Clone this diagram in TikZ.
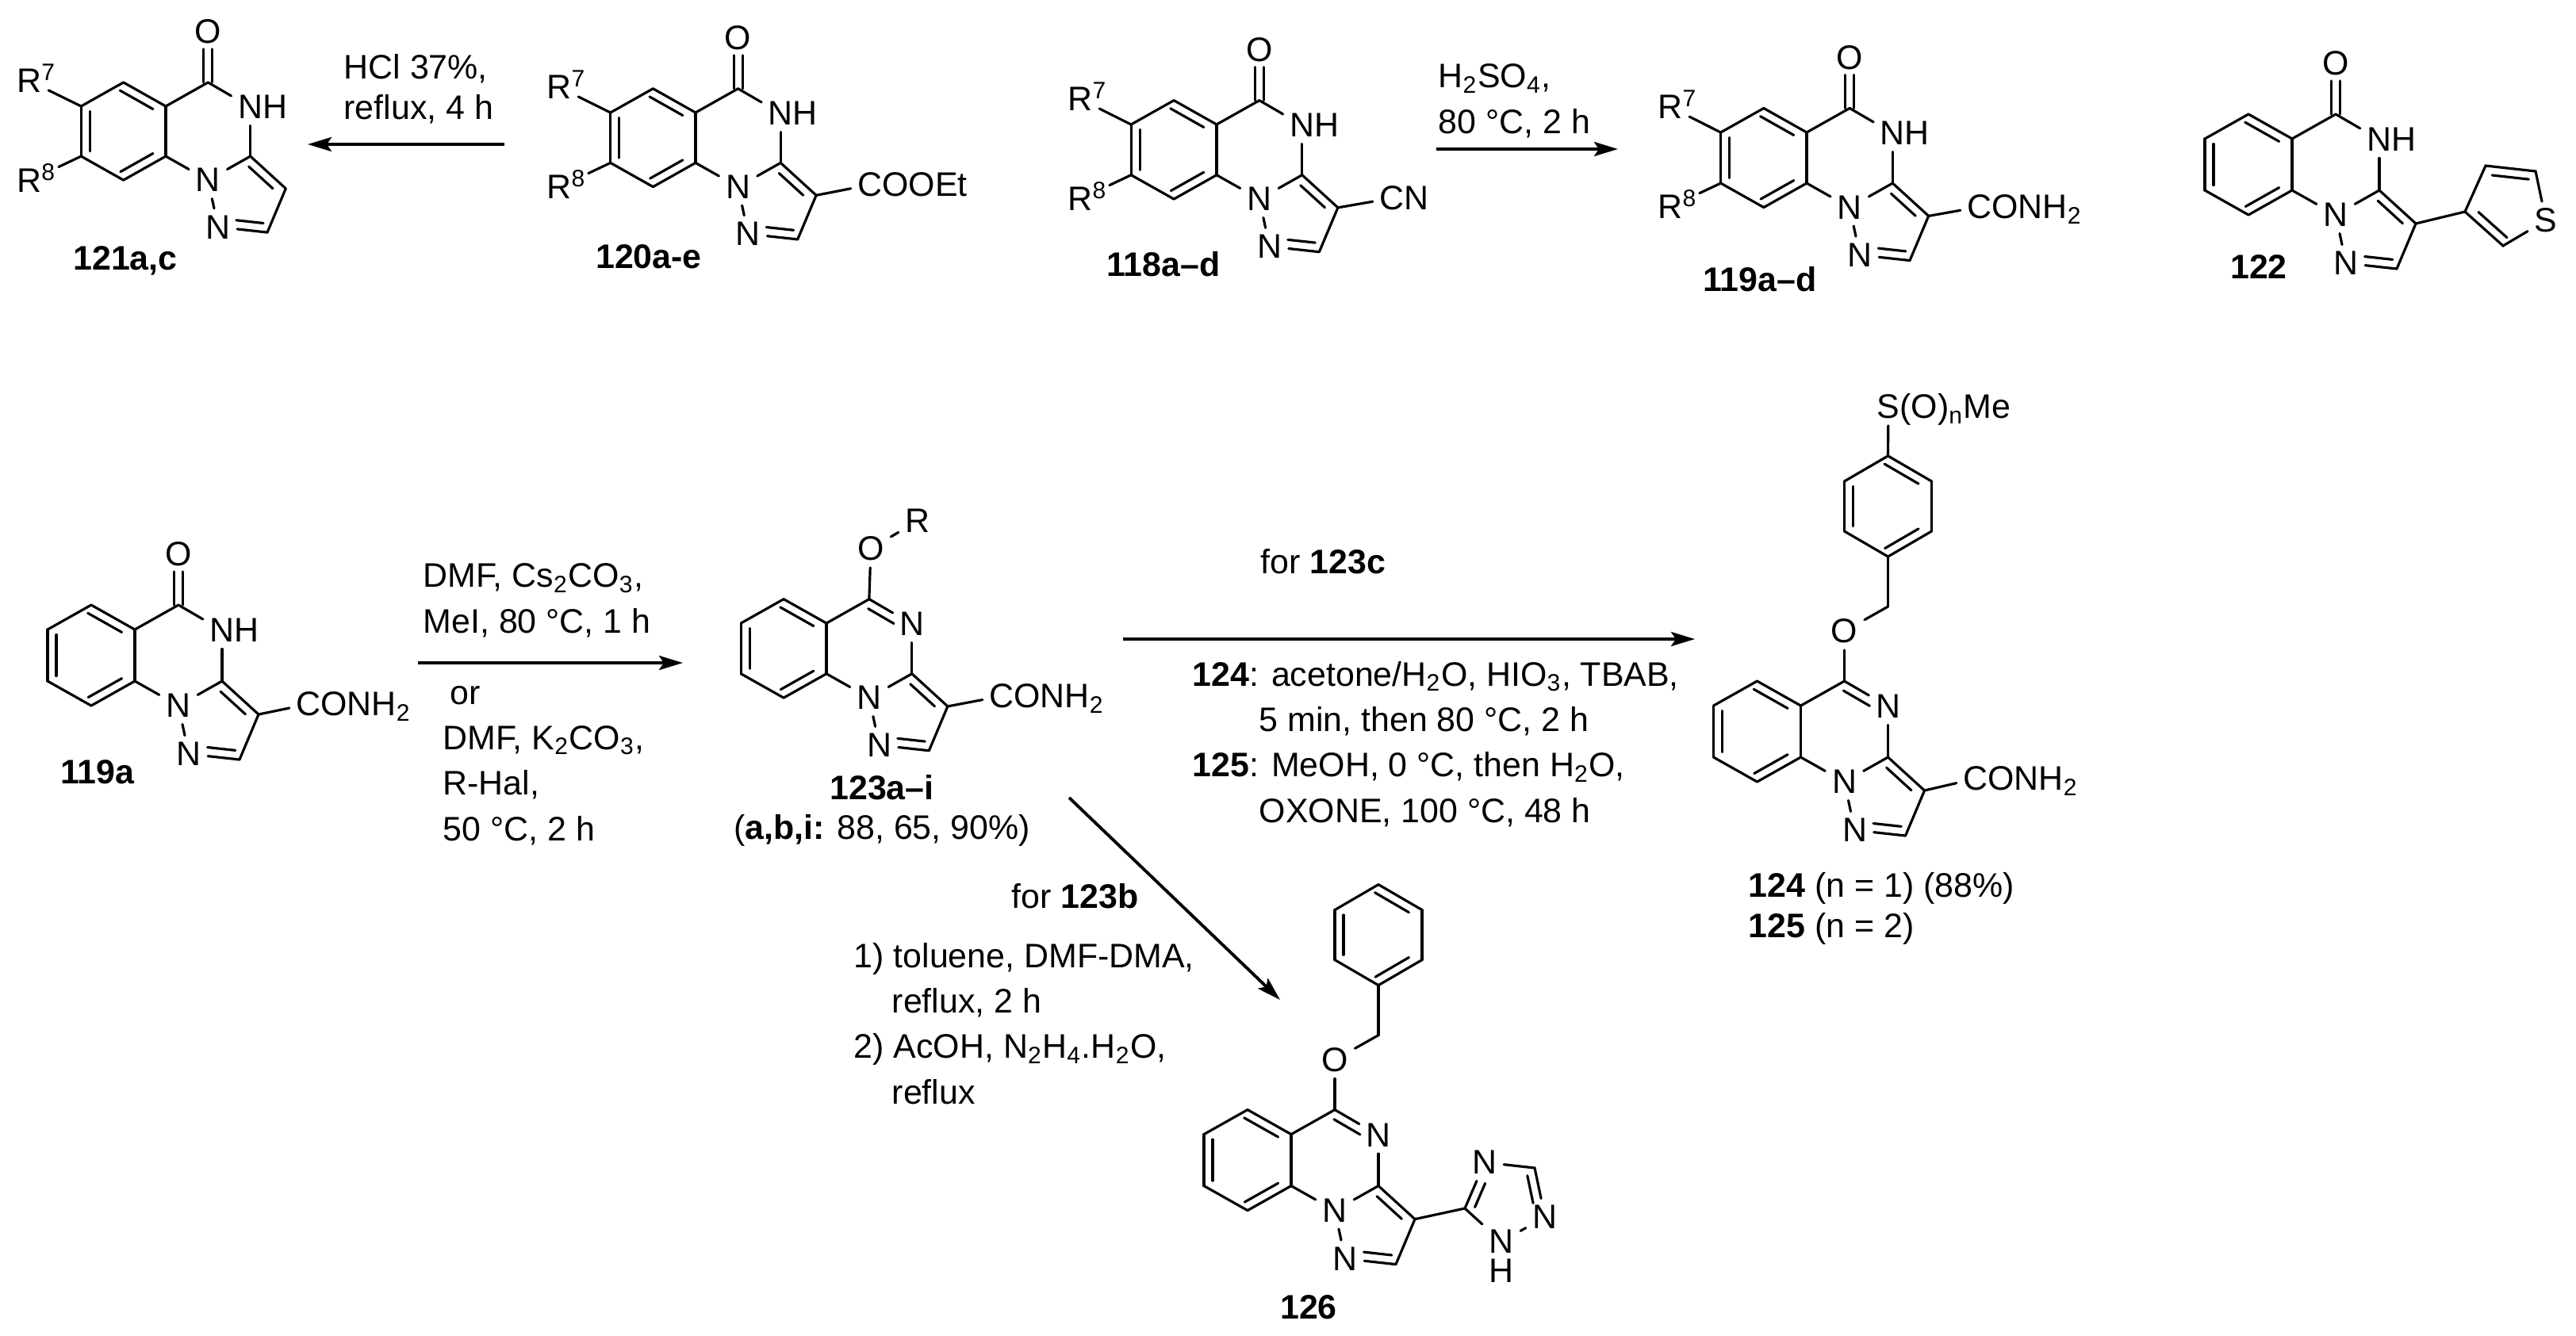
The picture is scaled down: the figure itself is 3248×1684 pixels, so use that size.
\documentclass[tikz,border=0pt]{standalone}
\usepackage{fontspec}
\setmainfont{Liberation Sans}
\usetikzlibrary{arrows.meta,calc}
\tikzset{
  bond/.style={line width=.9pt,line cap=round},
  atom/.style={inner sep=.08cm},
  rxn/.style={line width=1.1pt,-{Stealth[length=.3cm,width=.18cm,inset=.06cm]}},
  txt/.style={inner sep=0pt,align=left,anchor=base west},
  txtshort/.style={txt,font=\fontsize{12.2}{14.4}\selectfont},
  lab/.style={inner sep=0pt,anchor=base,font=\fontsize{12.2}{16.3}\selectfont\bfseries}
}
\newcommand{\tail}[1]{\smash{\rlap{#1}}}
\newcommand{\dbond}[4]{\draw[bond] ($(#1)!#3!(#2)!.11cm!-90:(#2)$) -- ($(#1)!#4!(#2)!.11cm!-90:(#2)$);}
\newcommand{\core}[5]{
  \begin{scope}[shift={(#2,#3)},scale=#4]
    \coordinate (#1rt) at (0,0);
    \coordinate (#1top) at (-55,-31);
    \coordinate (#1lt) at (-110,0);
    \coordinate (#1lb) at (-110,65);
    \coordinate (#1bot) at (-55,96);
    \coordinate (#1rb) at (0,65);
    \coordinate (#1c4) at (55,-31);
    \coordinate (#1c3a) at (110,65);
    \coordinate (#1c2) at (132,164);
    \coordinate (#1c3) at (156,107);
    \node[atom] (#1n5) at (110,1) {#5};
    \node[atom] (#1n1) at (55,96) {N};
    \node[atom] (#1n2) at (68,157) {N};
  \end{scope}
  \foreach \a/\b in {rt/top,top/lt,lt/lb,lb/bot,bot/rb,rb/rt,rt/c4,c4/n5,n5/c3a,c3a/n1,n1/rb,n1/n2,n2/c2,c2/c3,c3/c3a}{
    \draw[bond] (#1\a) -- (#1\b);
  }
  \dbond{#1top}{#1rt}{.02}{.8}
  \dbond{#1lb}{#1lt}{.1}{.9}
  \dbond{#1rb}{#1bot}{.2}{.97}
  \dbond{#1c3a}{#1c3}{.12}{.8}
  \dbond{#1c2}{#1n2}{.1}{.65}
}
\newcommand{\oxo}[1]{
  \node[atom] (#1o) at ($(#1c4)+(0,-64)$) {O};
  \draw[bond,shorten >=.22cm] ($(#1c4)!.055cm!90:(#1o)$) -- ($(#1o)!.055cm!-90:(#1c4)$);
  \draw[bond,shorten >=.22cm] ($(#1c4)!.055cm!-90:(#1o)$) -- ($(#1o)!.055cm!90:(#1c4)$);
}
\newcommand{\rpair}[3]{
  \node[atom] (#1r7) at ($(#2,#3)+(-172,-32)$) {R\tail{\textsuperscript{7}}};
  \node[atom] (#1r8) at ($(#2,#3)+(-172,94)$) {R\tail{\textsuperscript{8}}};
  \draw[bond] (#1lt) -- (#1r7);
  \draw[bond,shorten >=.14cm] (#1lb) -- (#1r8);
}
\newcommand{\benzyloxy}[3]{
  \begin{scope}[shift={(#2,#3)}]
    \node[atom] (#1o) at (55,-94) {O};
    \coordinate (#1ch) at (110,-125);
    \coordinate (#1pb) at (110,-188);
    \coordinate (#1prb) at (165,-220);
    \coordinate (#1prt) at (165,-283);
    \coordinate (#1pt) at (110,-315);
    \coordinate (#1plt) at (55,-283);
    \coordinate (#1plb) at (55,-220);
  \end{scope}
  \foreach \a/\b in {c4/o,o/ch,ch/pb,pb/prb,prb/prt,prt/pt,pt/plt,plt/plb,plb/pb}{
    \draw[bond] (#1\a) -- (#1\b);
  }
  \dbond{#1pt}{#1prt}{.02}{.8}
  \dbond{#1prb}{#1pb}{.2}{.97}
  \dbond{#1plb}{#1plt}{.1}{.9}
}
\begin{document}
\begin{tikzpicture}[x=.01cm,y=-.01cm,every node/.style={font=\fontsize{12.2}{16.3}\selectfont}]
  \path[use as bounding box] (0,0) rectangle (3248,1684);

  \core{mA}{209}{134}{.97}{N\tail{H}}
  \oxo{mA}
  \rpair{mA}{209}{134}
  \node[lab] (tA) at (158,340) {121a,c};

  \core{mB}{877}{142}{.975}{N\tail{H}}
  \oxo{mB}
  \rpair{mB}{877}{142}
  \node[atom] (mBsub) at (1097,233) {C\tail{OOEt}};
  \draw[bond] (mBc3) -- (mBsub);
  \node[lab] (tB) at (818,338) {120a-e};

  \core{mC}{1534}{157}{.98}{N\tail{H}}
  \oxo{mC}
  \rpair{mC}{1534}{157}
  \node[atom] (mCsub) at (1755,250) {C\tail{N}};
  \draw[bond] (mCc3) -- (mCsub);
  \node[lab] (tC) at (1467,348) {118a–d};

  \core{mD}{2278}{167}{.985}{N\tail{H}}
  \oxo{mD}
  \rpair{mD}{2278}{167}
  \node[atom] (mDsub) at (2496,261) {C\tail{ONH\textsubscript{2}}};
  \draw[bond] (mDc3) -- (mDsub);
  \node[lab] (tD) at (2219,367) {119a–d};

  \core{mE}{2890}{175}{1}{N\tail{H}}
  \oxo{mE}
  \coordinate (thA) at (3108,267);
  \coordinate (thB) at (3156,310);
  \node[atom] (thS) at (3210,278) {S};
  \coordinate (thC) at (3197,216);
  \coordinate (thD) at (3134,209);
  \draw[bond] (mEc3) -- (thA) -- (thB) -- (thS) -- (thC) -- (thD) -- (thA);
  \dbond{thB}{thA}{.05}{.8}
  \dbond{thD}{thC}{.15}{.88}
  \node[lab] (tE) at (2848,351) {122};

  \core{mF}{170}{794}{1}{N\tail{H}}
  \oxo{mF}
  \node[atom] (mFsub) at (389,888) {C\tail{ONH\textsubscript{2}}};
  \draw[bond] (mFc3) -- (mFsub);
  \node[lab] (tF) at (123,988) {119a};

  \core{mG}{1042}{786}{.98}{N}
  \dbond{mGc4}{mGn5}{.08}{.68}
  \node[atom] (mGo) at (1098,692) {O};
  \node[atom] (mGr) at (1157,657) {R};
  \draw[bond] (mGc4) -- (mGo);
  \draw[bond] (mGo) -- (mGr);
  \node[atom] (mGsub) at (1263,878) {C\tail{ONH\textsubscript{2}}};
  \draw[bond] (mGc3) -- (mGsub);
  \node[lab] (tG) at (1112,1008) {123a–i};
  \node[lab,font=\fontsize{12.2}{16.3}\selectfont] (tGy) at (1112,1058) {(\textbf{a,b,i:} 88, 65, 90\%)};

  \core{mH}{2270.5}{890}{1}{N}
  \dbond{mHc4}{mHn5}{.08}{.68}
  \benzyloxy{mH}{2270.5}{890}
  \node[atom] (mHs) at (2381,513) {S\tail{(O)\textsubscript{n}Me}};
  \draw[bond] (mHpt) -- (mHs);
  \node[atom] (mHsub) at (2491,982) {C\tail{ONH\textsubscript{2}}};
  \draw[bond] (mHc3) -- (mHsub);
  \node[txtshort] (tH) at (2204,1182) {\textbf{124} (n = 1) (88\%)\\\textbf{125} (n = 2)};

  \core{mJ}{1628}{1430.6}{1}{N}
  \dbond{mJc4}{mJn5}{.08}{.68}
  \benzyloxy{mJ}{1628}{1430.6}
  \coordinate (trA) at (1847,1524);
  \node[atom] (trB) at (1872,1466) {N};
  \coordinate (trC) at (1935,1473);
  \node[atom] (trD) at (1948,1535) {N};
  \node[atom] (trE) at (1893,1566) {N};
  \node[inner sep=0pt] (trH) at (1893,1603) {H};
  \draw[bond] (mJc3) -- (trA) -- (trB) -- (trC) -- (trD) -- (trE) -- (trA);
  \dbond{trA}{trB}{.1}{.62}
  \dbond{trC}{trD}{.12}{.68}
  \node[lab] (tJ) at (1650,1663) {126};

  \coordinate (arAs) at (636,182);
  \coordinate (arAe) at (388,182);
  \draw[rxn] (arAs) -- (arAe);
  \node[txtshort] (rgA) at (433,150) {HCl 37\%,\\reflux, 4 h};

  \coordinate (arBs) at (1811,188);
  \coordinate (arBe) at (2040,188);
  \draw[rxn] (arBs) -- (arBe);
  \node[txt] (rgB) at (1813,168) {H\textsubscript{2}SO\textsubscript{4},\\80 °C, 2 h};

  \coordinate (arCs) at (527,836);
  \coordinate (arCe) at (861,836);
  \draw[rxn] (arCs) -- (arCe);
  \node[txt] (rgC) at (533,798) {DMF, Cs\textsubscript{2}CO\textsubscript{3},\\MeI, 80 °C, 1 h};
  \node[txt] (rgD) at (558,1060) {\hspace*{.09cm}or\\DMF, K\textsubscript{2}CO\textsubscript{3},\\R-Hal,\\50 °C, 2 h};

  \coordinate (arDs) at (1416,806);
  \coordinate (arDe) at (2137,806);
  \draw[rxn] (arDs) -- (arDe);
  \node[txt] (rgE) at (1589,723) {for \textbf{123c}};
  \node[txt] (rgF) at (1503,1037) {\textbf{124}: acetone/H\textsubscript{2}O, HIO\textsubscript{3}, TBAB,\\\hspace*{.84cm}5 min, then 80 °C, 2 h\\\textbf{125}: MeOH, 0 °C, then H\textsubscript{2}O,\\\hspace*{.84cm}OXONE, 100 °C, 48 h};

  \coordinate (arEs) at (1348,1006);
  \coordinate (arEe) at (1614,1261);
  \draw[rxn] (arEs) -- (arEe);
  \node[txt] (rgG) at (1275,1145) {for \textbf{123b}};
  \node[txt] (rgH) at (1076,1392) {1) toluene, DMF-DMA,\\\hspace*{.48cm}reflux, 2 h\\2) AcOH, N\textsubscript{2}H\textsubscript{4}.H\textsubscript{2}O,\\\hspace*{.48cm}reflux};
\end{tikzpicture}
\end{document}
